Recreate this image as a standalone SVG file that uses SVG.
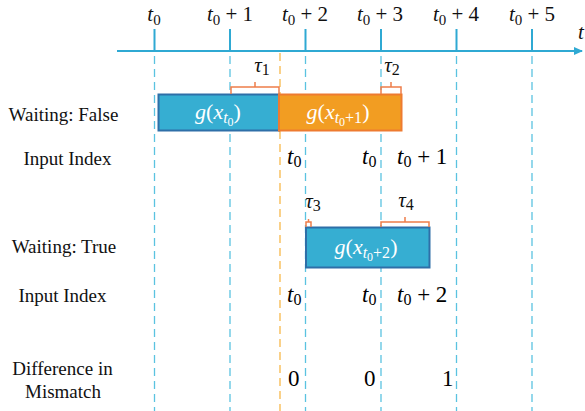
<svg xmlns="http://www.w3.org/2000/svg" width="585" height="411" viewBox="0 0 585 411">
<defs>
<style>
.lbl{font-size:19px;fill:#111;text-anchor:middle}
.m{font-size:21px;fill:#111}
.mi{font-style:italic}
.bx{font-size:22px;fill:#fff;text-anchor:middle}
.dash{stroke:#5bc3e0;stroke-width:1.3;stroke-dasharray:8,5;fill:none}
.dasho{stroke:#f7b84a;stroke-width:1.3;stroke-dasharray:8,5;fill:none}
.tick{stroke:#2fa9d3;stroke-width:2}
.brace{stroke:#ee7d4a;stroke-width:1.5;fill:none}
</style>
<marker id="ah" markerWidth="10" markerHeight="10" refX="8" refY="5" orient="auto" markerUnits="userSpaceOnUse">
<path d="M0,1 L9,5 L0,9 Z" fill="#2fa9d3"/>
</marker>
</defs>
<g id="connectors">
<line x1="117" y1="51" x2="582" y2="51" stroke="#2fa9d3" stroke-width="2" marker-end="url(#ah)"/>
<line class="tick" x1="154.5" y1="29" x2="154.5" y2="51"/>
<line class="tick" x1="230" y1="29" x2="230" y2="51"/>
<line class="tick" x1="305.5" y1="29" x2="305.5" y2="51"/>
<line class="tick" x1="381" y1="29" x2="381" y2="51"/>
<line class="tick" x1="456.5" y1="29" x2="456.5" y2="51"/>
<line class="tick" x1="532" y1="29" x2="532" y2="51"/>
<line class="dash" x1="154.5" y1="56" x2="154.5" y2="411"/>
<line class="dash" x1="230" y1="56" x2="230" y2="411"/>
<line class="dash" x1="305.5" y1="56" x2="305.5" y2="411"/>
<line class="dash" x1="381" y1="56" x2="381" y2="411"/>
<line class="dash" x1="456.5" y1="56" x2="456.5" y2="411"/>
<line class="dash" x1="532" y1="56" x2="532" y2="411"/>
<line class="dasho" x1="280" y1="53" x2="280" y2="411"/>
</g>
<g font-family="Liberation Serif, serif">
<g id="axis-labels">
<text class="m" x="154" y="21" text-anchor="middle"><tspan class="mi">t</tspan><tspan dy="4" font-size="15">0</tspan></text>
<text class="m" x="230" y="21" text-anchor="middle"><tspan class="mi">t</tspan><tspan dy="4" font-size="15">0</tspan><tspan dy="-4"> + 1</tspan></text>
<text class="m" x="305" y="21" text-anchor="middle"><tspan class="mi">t</tspan><tspan dy="4" font-size="15">0</tspan><tspan dy="-4"> + 2</tspan></text>
<text class="m" x="380" y="21" text-anchor="middle"><tspan class="mi">t</tspan><tspan dy="4" font-size="15">0</tspan><tspan dy="-4"> + 3</tspan></text>
<text class="m" x="456" y="21" text-anchor="middle"><tspan class="mi">t</tspan><tspan dy="4" font-size="15">0</tspan><tspan dy="-4"> + 4</tspan></text>
<text class="m" x="532" y="21" text-anchor="middle"><tspan class="mi">t</tspan><tspan dy="4" font-size="15">0</tspan><tspan dy="-4"> + 5</tspan></text>
<text class="m mi" x="578" y="39" font-size="24">t</text>
</g>
<g id="row-labels">
<text class="lbl" x="63.5" y="121">Waiting: False</text>
<text class="lbl" x="67.5" y="165">Input Index</text>
<text class="lbl" x="64" y="253">Waiting: True</text>
<text class="lbl" x="62.5" y="302">Input Index</text>
<text class="lbl" x="62.5" y="375">Difference in</text>
<text class="lbl" x="63" y="398">Mismatch</text>
</g>
<g id="box-g-t0">
<rect x="158.5" y="94.5" width="120.5" height="36" fill="#36aed2" stroke="#2e6fa8" stroke-width="2"/>
<text class="bx" x="218" y="119"><tspan class="mi">g</tspan>(<tspan class="mi">x</tspan><tspan dy="4" font-size="16" class="mi">t</tspan><tspan dy="3" font-size="12">0</tspan><tspan dy="-7">)</tspan></text>
</g>
<g id="box-g-t1">
<rect x="279" y="94.5" width="122.5" height="36" fill="#f29d22" stroke="#ee7b30" stroke-width="2"/>
<text class="bx" x="338" y="119"><tspan class="mi">g</tspan>(<tspan class="mi">x</tspan><tspan dy="4" font-size="16" class="mi">t</tspan><tspan dy="3" font-size="12">0</tspan><tspan dy="-3" font-size="16">+1</tspan><tspan dy="-4">)</tspan></text>
</g>
<g id="box-g-t2">
<rect x="306" y="227.5" width="123.5" height="40" fill="#36aed2" stroke="#2e6fa8" stroke-width="2"/>
<text class="bx" x="366" y="254"><tspan class="mi">g</tspan>(<tspan class="mi">x</tspan><tspan dy="4" font-size="16" class="mi">t</tspan><tspan dy="3" font-size="12">0</tspan><tspan dy="-3" font-size="16">+2</tspan><tspan dy="-4">)</tspan></text>
</g>
<g id="tau1">
<path class="brace" d="M231,94 V87 H279 V94 M255,87 V82"/>
<text class="m" x="262" y="72" text-anchor="middle" font-size="22"><tspan class="mi">τ</tspan><tspan dy="3" font-size="16">1</tspan></text>
</g>
<g id="tau2">
<path class="brace" d="M381,94 V87 H401 V94 M391,87 V82"/>
<text class="m" x="392" y="72" text-anchor="middle" font-size="22"><tspan class="mi">τ</tspan><tspan dy="3" font-size="16">2</tspan></text>
</g>
<g id="tau3">
<path class="brace" d="M306,227 V222 H311 V227 M308.5,222 V219"/>
<text class="m" x="313" y="208" text-anchor="middle" font-size="22"><tspan class="mi">τ</tspan><tspan dy="3" font-size="16">3</tspan></text>
</g>
<g id="tau4">
<path class="brace" d="M381,227 V222 H429 V227 M405,222 V217"/>
<text class="m" x="406" y="207" text-anchor="middle" font-size="22"><tspan class="mi">τ</tspan><tspan dy="3" font-size="16">4</tspan></text>
</g>
<g id="input-index-false">
<text x="287" y="164" font-size="23"><tspan class="mi">t</tspan><tspan dy="3" font-size="16">0</tspan></text>
<text x="362" y="164" font-size="23"><tspan class="mi">t</tspan><tspan dy="3" font-size="16">0</tspan></text>
<text x="397" y="164" font-size="23"><tspan class="mi">t</tspan><tspan dy="3" font-size="16">0</tspan><tspan dy="-3"> + 1</tspan></text>
</g>
<g id="input-index-true">
<text x="287" y="302" font-size="23"><tspan class="mi">t</tspan><tspan dy="3" font-size="16">0</tspan></text>
<text x="362" y="302" font-size="23"><tspan class="mi">t</tspan><tspan dy="3" font-size="16">0</tspan></text>
<text x="397" y="302" font-size="23"><tspan class="mi">t</tspan><tspan dy="3" font-size="16">0</tspan><tspan dy="-3"> + 2</tspan></text>
</g>
<g id="mismatch">
<text x="288" y="386" font-size="23">0</text>
<text x="364" y="386" font-size="23">0</text>
<text x="442" y="386" font-size="23">1</text>
</g>
</g>
</svg>
